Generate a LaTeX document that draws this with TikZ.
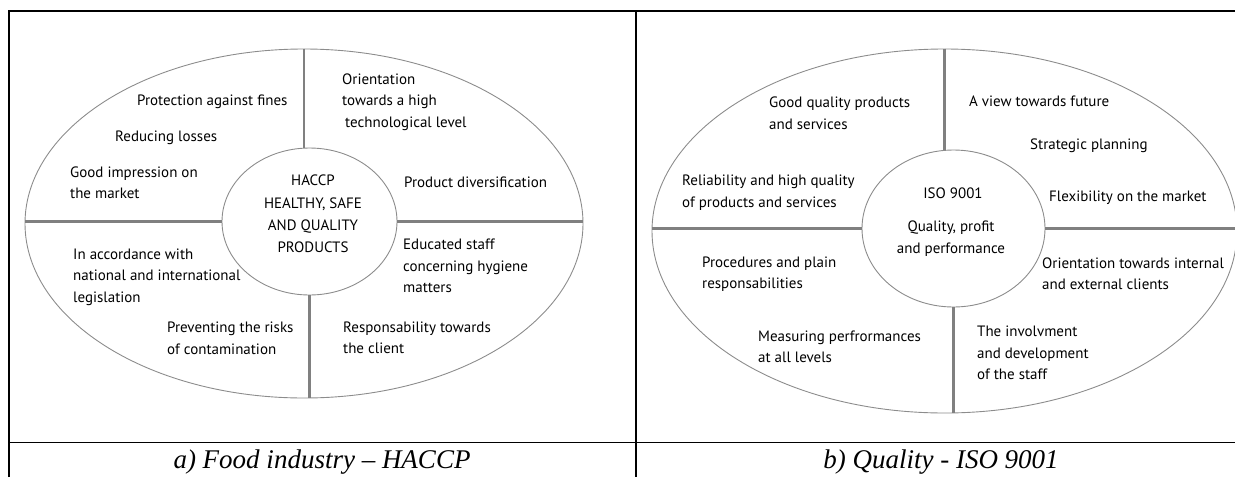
\documentclass[tikz,border=0pt]{standalone}
\usepackage{fontspec}
\setmainfont{PT Sans}
\newfontfamily\capfont{Liberation Serif}
\usepackage{tikz}
\usetikzlibrary{shapes.geometric}
\definecolor{rimC}{rgb}{0.55,0.55,0.55}
\definecolor{barC}{rgb}{0.5,0.5,0.5}

\begin{document}
\begin{tikzpicture}[x=1pt,y=-1pt,
  rim/.style={ellipse,draw=rimC,line width=0.9pt,inner sep=0pt},
  bar/.style={draw=barC,line width=2.8pt},
  frame/.style={draw=black,line width=1.4pt},
  txt/.style={anchor=west,align=left,inner sep=0pt,font=\fontsize{15}{21.5}\selectfont},
  mid/.style={align=center,inner sep=0pt,font=\fontsize{15}{22.3}\selectfont},
  subcap/.style={anchor=base,font=\capfont\itshape\fontsize{27}{30}\selectfont}]
        \useasboundingbox (0,0) rectangle (1235,477);
        \newcommand\spokes[2]{
          \draw[bar] (#1.north) -- (#1.north |- #2.north);
          \draw[bar] (#2.south) -- (#2.south |- #1.south);
          \draw[bar] (#2.west) -- (#2.west -| #1.west);
          \draw[bar] (#2.east) -- (#2.east -| #1.east);}
        \draw[frame] (9,477) -- (9,11) -- (1235,11);
        \draw[frame] (636,11) -- (636,477);
        \draw[frame] (9,442.5) -- (1235,442.5);
        \node[rim,minimum width=558,minimum height=349] (outA) at (304,223.5) {};
        \node[rim,minimum width=175,minimum height=147] (inA) at (309.5,221.5) {};
        \node[rim,minimum width=585,minimum height=364] (outB) at (944.5,231) {};
        \node[rim,minimum width=183,minimum height=157] (inB) at (953.5,228.5) {};
        \spokes{outA}{inA}
        \spokes{outB}{inB}
        \node[mid] (haccp) at (313,214) {HACCP\\HEALTHY, SAFE\\AND QUALITY\\PRODUCTS};
        \node[txt] (fines) at (137,102) {Protection against fines};
        \node[txt] (losses) at (115,138) {Reducing losses};
        \node[txt] (impress) at (70,182.5) {Good impression on\\the market};
        \node[txt] (techno) at (342,102) {Orientation\\towards a high\\\hspace{3pt}technological level};
        \node[txt] (divers) at (404,182) {Product diversification};
        \node[txt] (hygiene) at (403,266) {Educated staff\\concerning hygiene\\matters};
        \node[txt] (client) at (343,338) {Responsability towards\\the client};
        \node[txt] (legis) at (73,277) {In accordance with\\national and international\\legislation};
        \node[txt] (risks) at (167,338.5) {Preventing the risks\\of contamination};
        \node[mid] (iso) at (953,193) {ISO 9001};
        \node[mid] (profit) at (951,238.5) {Quality, profit\\and performance};
        \node[txt] (goodq) at (769,113) {Good quality products\\and services};
        \node[txt] (reliab) at (682,192.5) {Reliability and high quality\\of products and services};
        \node[txt] (future) at (969,101) {A view towards future};
        \node[txt] (strategy) at (1030,146) {Strategic planning};
        \node[txt] (flex) at (1049,198) {Flexibility on the market};
        \node[txt] (proc) at (702,274) {Procedures and plain\\responsabilities};
        \node[txt] (measure) at (758,347) {Measuring perfrormances\\at all levels};
        \node[txt] (clients) at (1042,273.5) {Orientation towards internal\\and external clients};
        \node[txt] (staff) at (977,353) {The involvment\\and development\\of the staff};
        \node[subcap] (capA) at (322,468) {a) Food industry \textendash{} HACCP};
        \node[subcap] (capB) at (941,468) {b) Quality - ISO 9001};
\end{tikzpicture}
\end{document}
